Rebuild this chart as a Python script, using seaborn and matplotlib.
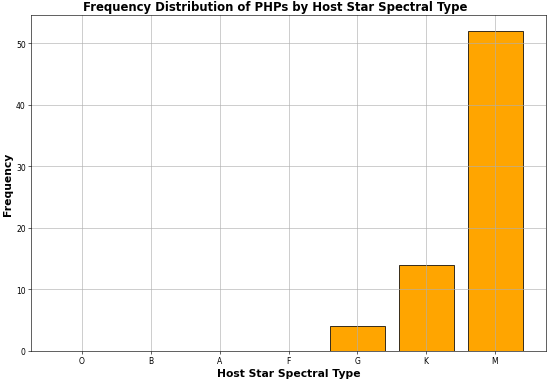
import pandas as pd
import seaborn as sns
import matplotlib
matplotlib.use("Agg")
import matplotlib.pyplot as plt

spectralTypes = ['O', 'B', 'A', 'F', 'G', 'K', 'M']
counts = [0, 0, 0, 0, 4, 14, 52]

df = pd.DataFrame({'Spectral Type': spectralTypes, 'Frequency': counts})

fig, ax = plt.subplots(figsize=(10, 6.927), dpi=55)
sns.barplot(x='Spectral Type', y='Frequency', data=df, order=spectralTypes,
            color='orange', saturation=1, edgecolor='black', linewidth=1, width=0.8, ax=ax)
ax.grid(True)
ax.set_xlim(-0.74, 6.74)
ax.set_ylim(0, max(counts) * 1.05)
# title sits centred on the figure rather than the axes
fig.suptitle('Frequency Distribution of PHPs by Host Star Spectral Type', fontsize=15.3, fontweight='bold',
             x=0.5, y=0.972, va='baseline')
ax.set_xlabel('Host Star Spectral Type', fontsize=14, fontweight='bold')
ax.set_ylabel('Frequency', fontsize=14, fontweight='bold')
fig.subplots_adjust(left=0.0564, right=0.9927, bottom=0.0761, top=0.958)
fig.savefig('out.png', dpi=55)
